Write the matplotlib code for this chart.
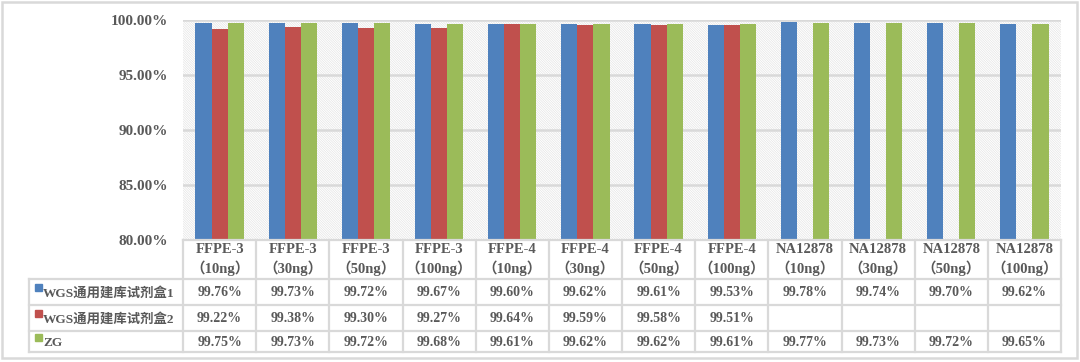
import numpy as np
import matplotlib
matplotlib.use("Agg")
import matplotlib.pyplot as plt
from matplotlib.patches import Rectangle
from matplotlib.lines import Line2D

plt.rcParams["font.family"] = ["Liberation Serif", "Noto Sans CJK SC", "DejaVu Sans"]
plt.rcParams["hatch.linewidth"] = 0.45

categories = ["FFPE-3\n（10ng）", "FFPE-3\n（30ng）", "FFPE-3\n（50ng）", "FFPE-3\n（100ng）",
              "FFPE-4\n（10ng）", "FFPE-4\n（30ng）", "FFPE-4\n（50ng）", "FFPE-4\n（100ng）",
              "NA12878\n（10ng）", "NA12878\n（30ng）", "NA12878\n（50ng）", "NA12878\n（100ng）"]
series_names = ["WGS通用建库试剂盒1", "WGS通用建库试剂盒2", "ZG"]
kit1 = [99.76, 99.73, 99.72, 99.67, 99.60, 99.62, 99.61, 99.53, 99.78, 99.74, 99.70, 99.62]
kit2 = [99.22, 99.38, 99.30, 99.27, 99.64, 99.59, 99.58, 99.51, np.nan, np.nan, np.nan, np.nan]
zg = [99.75, 99.73, 99.72, 99.68, 99.61, 99.62, 99.62, 99.61, 99.77, 99.73, 99.72, 99.65]
colors = ["#4f81bd", "#c0504d", "#9bbb59"]
yticks = [80, 85, 90, 95, 100]

W, H = 1080, 362
fig = plt.figure(figsize=(W / 100, H / 100), dpi=100)
txt_color = "#595959"
grid_color = "#d9d9d9"

def fx(px):
    return px / W

def fy(py):
    return 1 - py / H

ax_l, ax_r, ax_t, ax_b = 183, 1061, 20, 240
ax = fig.add_axes([fx(ax_l), fy(ax_b), fx(ax_r - ax_l), fy(ax_t) - fy(ax_b)])

# hatched background
bg = Rectangle((0, 0), 1, 1, transform=ax.transAxes, facecolor="white",
               edgecolor="#e2e2e2", hatch="\\" * 14, linewidth=0, zorder=0)
ax.add_patch(bg)

x = np.arange(len(categories))
bw = 0.22
for i, (vals, c) in enumerate(zip([kit1, kit2, zg], colors)):
    ax.bar(x + (i - 1) * bw, vals, width=bw, color=c, zorder=3)

ax.set_xlim(-0.5, len(categories) - 0.5)
ax.set_ylim(80, 100)
ax.set_yticks(yticks)
ax.set_yticklabels(["%.2f%%" % v for v in yticks], fontsize=11, fontweight="bold", color=txt_color)
ax.tick_params(axis="y", length=0, pad=11)
ax.set_xticks([])
for s in ax.spines.values():
    s.set_visible(False)
for v in yticks[1:]:
    ax.axhline(v, color=grid_color, lw=1.8, zorder=1)

# data table below the axes
tbl_left = 29
row_edges = [240, 279, 305, 331, 352]
col_w = (ax_r - ax_l) / len(categories)
col_edges = [ax_l + k * col_w for k in range(len(categories) + 1)]

def hline(x0, x1, y):
    fig.add_artist(Line2D([fx(x0), fx(x1)], [fy(y), fy(y)], color=grid_color, lw=1.6))

def vline(xp, y0, y1):
    fig.add_artist(Line2D([fx(xp), fx(xp)], [fy(y0), fy(y1)], color=grid_color, lw=1.6))

hline(ax_l, ax_r, row_edges[0])
for y in row_edges[1:]:
    hline(tbl_left, ax_r, y)
for xp in col_edges:
    vline(xp, row_edges[0], row_edges[-1])
vline(tbl_left, row_edges[1], row_edges[-1])

for k, lab in enumerate(categories):
    cx = (col_edges[k] + col_edges[k + 1]) / 2
    cy = (row_edges[0] + row_edges[1]) / 2
    fig.text(fx(cx), fy(cy), lab, ha="center", va="center", fontsize=10.5,
             fontweight="bold", color=txt_color, linespacing=1.3)

for r, (name, vals, c) in enumerate(zip(series_names, [kit1, kit2, zg], colors)):
    y0, y1 = row_edges[r + 1], row_edges[r + 2]
    cy = (y0 + y1) / 2
    fig.add_artist(Rectangle((fx(35), fy(cy - 1)), fx(7), fy(0) - fy(7),
                             color=c, transform=fig.transFigure))
    fig.text(fx(43), fy(cy + 1), name, ha="left", va="center", fontsize=9.6,
             fontweight="bold", color=txt_color)
    for k, v in enumerate(vals):
        if np.isnan(v):
            continue
        cx = (col_edges[k] + col_edges[k + 1]) / 2
        fig.text(fx(cx), fy(cy + 1), "%.2f%%" % v, ha="center", va="center",
                 fontsize=10, fontweight="bold", color=txt_color)

# outer chart frame
fig.add_artist(Rectangle((fx(2), fy(358)), fx(1075), fy(2) - fy(358), fill=False,
                         edgecolor=grid_color, lw=1.8, transform=fig.transFigure))

fig.savefig("out.png", dpi=100)
